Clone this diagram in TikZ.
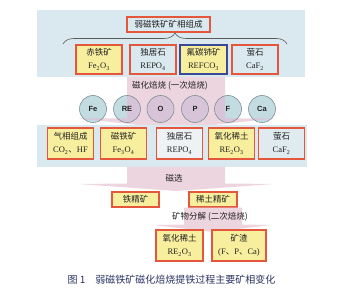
\documentclass[tikz,border=0pt]{standalone}
\usepackage{fontspec}
\setmainfont{Liberation Serif}
\newfontfamily\cjk{Noto Sans CJK SC}
\newfontfamily\sansf{Liberation Sans}
\usetikzlibrary{decorations.pathreplacing}
\definecolor{bgblue}{HTML}{DAE8EF}
\definecolor{ylw}{HTML}{F8EF9E}
\definecolor{redb}{HTML}{E4573D}
\definecolor{blueb}{HTML}{3B4A97}
\definecolor{pinkA}{HTML}{EDD5DF}
\definecolor{circ}{HTML}{C3DCE2}
\definecolor{circp}{HTML}{D8C4D8}
\definecolor{circb}{HTML}{7E9196}
\definecolor{capc}{HTML}{2B3562}
\definecolor{txt}{HTML}{222222}
\definecolor{lightbox}{HTML}{EEF2F4}
\begin{document}
\begin{tikzpicture}[x=1pt,y=-1pt,
  mbox/.style={draw=redb, line width=1.1pt, inner sep=0pt, align=center,
    minimum width=46pt, minimum height=29pt, text=txt,
    font=\fontsize{8.5}{13}\selectfont},
  ybox/.style={mbox, fill=ylw},
  elem/.style={circle, draw=circb, line width=0.6pt,
    minimum size=27pt, inner sep=0pt, text=txt,
    font=\sansf\bfseries\fontsize{7.5}{8}\selectfont},
  pinkarrow/.style={fill=pinkA},
  steplabel/.style={text=txt, font=\cjk\fontsize{8.5}{10}\selectfont, inner sep=0pt}
]
\useasboundingbox (0,0) rectangle (345,299);
\fill[white] (0,0) rectangle (345,299);

% top region
\fill[bgblue] (37,10) rectangle (305,77);
\node[mbox, minimum width=83pt, minimum height=15pt, font=\cjk\fontsize{8.5}{10}\selectfont] (title) at (168.5,24.5) {弱磁铁矿矿相组成};
\draw[decorate, decoration={brace, amplitude=11pt, aspect=0.5}, draw=black!65, line width=0.6pt]
  (63,44) -- (287,44);
\node[ybox] (hem) at (99,59.5) {{\cjk 赤铁矿}\\Fe\textsubscript{2}O\textsubscript{3}};
\node[mbox] (mon1) at (153,59.5) {{\cjk 独居石}\\REPO\textsubscript{4}};
\node[ybox, draw=blueb, minimum width=47pt] (bas) at (203.5,59.5) {{\cjk 氟碳铈矿}\\REFCO\textsubscript{3}};
\node[mbox] (flu1) at (255,59.5) {{\cjk 萤石}\\CaF\textsubscript{2}};

% arrow 1 (opaque, behind circles)
\path[pinkarrow] (127,77) -- (225,77) -- (225,118.5) -- (274,118.5) -- (176,129) -- (79,118.5) -- (127,118.5) -- cycle;
\node[steplabel] (roast1) at (170,85.5) {磁化焙烧 (一次焙烧)};

% circle fills
\foreach \cx in {93,127,160.5,195,228,262} \fill[circ] (\cx,109) circle (13.5pt);
\begin{scope}
  \clip (127,77) -- (225,77) -- (225,118.5) -- (274,118.5) -- (176,129) -- (79,118.5) -- (127,118.5) -- cycle;
  \foreach \cx in {93,127,160.5,195,228,262} \fill[circp] (\cx,109) circle (13.5pt);
\end{scope}

% elements
\node[elem] (fe) at (93,109) {Fe};
\node[elem] (re) at (127,109) {RE};
\node[elem] (o) at (160.5,109) {O};
\node[elem] (p) at (195,109) {P};
\node[elem] (f) at (228,109) {F};
\node[elem] (ca) at (262,109) {Ca};

% second region
\fill[bgblue] (37,125) rectangle (307,167);
\node[ybox, minimum height=31pt] (gas) at (70.5,143.5) {{\cjk 气相组成}\\CO\textsubscript{2}{\cjk 、}HF};
\node[ybox, minimum height=31pt] (mag) at (123.5,143.5) {{\cjk 磁铁矿}\\Fe\textsubscript{3}O\textsubscript{4}};
\node[mbox, minimum height=31pt, fill=lightbox] (mon2) at (179.5,143.5) {{\cjk 独居石}\\REPO\textsubscript{4}};
\node[ybox, minimum height=31pt] (reo1) at (231.5,143.5) {{\cjk 氧化稀土}\\RE\textsubscript{2}O\textsubscript{3}};
\node[mbox, minimum height=31pt, fill=bgblue!70!lightbox] (flu2) at (281.5,143.5) {{\cjk 萤石}\\CaF\textsubscript{2}};

% arrow 2
\path[pinkarrow] (127,167) -- (225,167) -- (225,183.5) -- (274,184) -- (176,191) -- (79,184) -- (127,183.5) -- cycle;
\node[steplabel] (msep) at (174,178) {磁选};

% row 3
\node[ybox, minimum width=47pt, minimum height=15pt, font=\cjk\fontsize{8.5}{10}\selectfont] (feconc) at (135.5,199.5) {铁精矿};
\node[ybox, minimum width=48pt, minimum height=15pt, font=\cjk\fontsize{8.5}{10}\selectfont] (reconc) at (213,199.5) {稀土精矿};

% arrow 3
\path[pinkarrow] (184,207.5) -- (242,207.5) -- (242,224.5) -- (271,225) -- (213,232) -- (153,225) -- (184,224.5) -- cycle;
\node[steplabel] (roast2) at (210,217) {矿物分解 (二次焙烧)};

% row 4
\node[ybox, minimum width=47pt, minimum height=31pt] (reo2) at (179.5,245.5) {{\cjk 氧化稀土}\\RE\textsubscript{2}O\textsubscript{3}};
\node[ybox, minimum width=54pt, minimum height=31pt] (slag) at (239,245.5) {{\cjk 矿渣}\\(F{\cjk 、}P{\cjk 、}Ca)};

% caption
\node[text=capc, font=\cjk\fontsize{10}{12}\selectfont, inner sep=0pt] (cap) at (171.5,280) {图 1\hspace{10pt}弱磁铁矿磁化焙烧提铁过程主要矿相变化};
\end{tikzpicture}
\end{document}
